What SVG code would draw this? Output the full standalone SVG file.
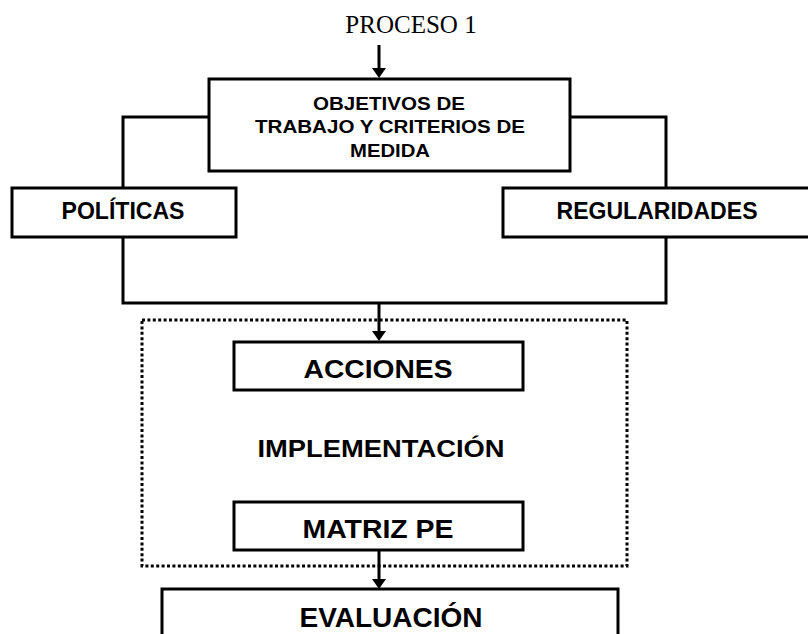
<svg xmlns="http://www.w3.org/2000/svg" width="808" height="634" viewBox="0 0 808 634">
<style>
.box{fill:#fff;stroke:#000;stroke-width:3}
.dot{fill:none;stroke:#000;stroke-width:3;stroke-dasharray:3 2.4}
.ln{fill:none;stroke:#000;stroke-width:3}
.t{font-family:"Liberation Sans",Arial,sans-serif;font-weight:bold;text-anchor:middle;fill:#000}
.s{font-family:"Liberation Serif","Times New Roman",serif;text-anchor:middle;fill:#000}
</style>
<defs>
<marker id="ah" viewBox="0 0 10 14" markerWidth="10" markerHeight="14" refX="1" refY="7" orient="auto" markerUnits="userSpaceOnUse">
<path d="M0,0 L10,7 L0,14 z" fill="#000"/>
</marker>
</defs>
<rect id="implementacion-frame" class="dot" x="142" y="320" width="485" height="246"/>
<g id="connectors">
<path class="ln" d="M379,45 V69" marker-end="url(#ah)"/>
<path class="ln" d="M209,117 H123 V188"/>
<path class="ln" d="M571,117 H666 V188"/>
<path class="ln" d="M123,237 V303 H666 V237"/>
<path class="ln" d="M379,303 V332" marker-end="url(#ah)"/>
<path class="ln" d="M379,550 V580" marker-end="url(#ah)"/>
</g>
<g id="proceso">
<text class="s" x="411" y="33" font-size="25">PROCESO 1</text>
</g>
<g id="objetivos">
<rect class="box" x="209" y="79" width="361" height="92"/>
<text class="t" x="389" y="110" font-size="19" textLength="152" lengthAdjust="spacingAndGlyphs">OBJETIVOS DE</text>
<text class="t" x="390" y="133" font-size="19" textLength="270" lengthAdjust="spacingAndGlyphs">TRABAJO Y CRITERIOS DE</text>
<text class="t" x="390" y="157" font-size="19" textLength="80" lengthAdjust="spacingAndGlyphs">MEDIDA</text>
</g>
<g id="politicas">
<rect class="box" x="12" y="188" width="224" height="49"/>
<text class="t" x="123" y="219" font-size="23" textLength="123" lengthAdjust="spacingAndGlyphs">POLÍTICAS</text>
</g>
<g id="regularidades">
<rect class="box" x="503" y="188" width="320" height="49"/>
<text class="t" x="657" y="219" font-size="23" textLength="201" lengthAdjust="spacingAndGlyphs">REGULARIDADES</text>
</g>
<g id="acciones">
<rect class="box" x="234" y="342" width="289" height="48"/>
<text class="t" x="378" y="378" font-size="25" textLength="149" lengthAdjust="spacingAndGlyphs">ACCIONES</text>
</g>
<g id="implementacion">
<text class="t" x="381" y="457" font-size="24" textLength="247" lengthAdjust="spacingAndGlyphs">IMPLEMENTACIÓN</text>
</g>
<g id="matriz">
<rect class="box" x="234" y="502" width="289" height="48"/>
<text class="t" x="378" y="538" font-size="25" textLength="151" lengthAdjust="spacingAndGlyphs">MATRIZ PE</text>
</g>
<g id="evaluacion">
<rect class="box" x="162" y="589" width="456" height="60"/>
<text class="t" x="391" y="627" font-size="27" textLength="183" lengthAdjust="spacingAndGlyphs">EVALUACIÓN</text>
</g>
</svg>
